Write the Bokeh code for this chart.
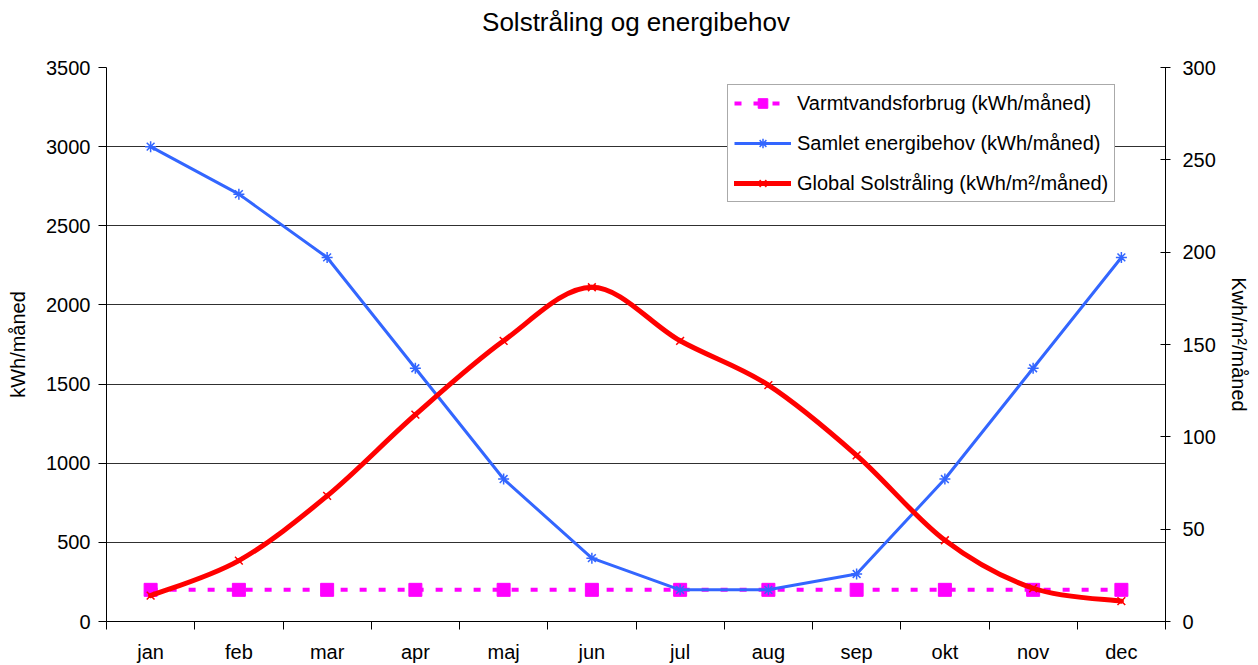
from bokeh.plotting import figure
from bokeh.models import (FixedTicker, LinearAxis, Range1d, Legend, LegendItem,
                          ColumnDataSource, Title)
from bokeh.embed import file_html
from bokeh.resources import INLINE

# ---- data ----
months = ["jan", "feb", "mar", "apr", "maj", "jun", "jul", "aug", "sep", "okt", "nov", "dec"]
varmtvand = [200, 200, 200, 200, 200, 200, 200, 200, 200, 200, 200, 200]
samlet = [3000, 2700, 2300, 1600, 900, 400, 200, 200, 300, 900, 1600, 2300]
solstraling = [14, 33, 68, 112, 152, 181, 152, 128, 90, 44, 18, 11]
left_ticks = [0, 500, 1000, 1500, 2000, 2500, 3000, 3500]
right_ticks = [0, 50, 100, 150, 200, 250, 300]

FONT = "Liberation Sans"
xs = [i + 0.5 for i in range(len(months))]

p = figure(width=1256, height=665, output_backend="svg", toolbar_location=None,
           x_range=Range1d(0, len(months)), y_range=Range1d(0, 3500),
           min_border_left=106, min_border_right=91, min_border_top=67,
           min_border_bottom=43)
p.title = None
p.extra_y_ranges = {"right": Range1d(0, 300)}
p.outline_line_color = None
p.background_fill_color = "white"

# spacer panel between frame and title, then the title itself (outermost)
p.add_layout(Title(text=" ", text_font_size="1px", standoff=25), "above")
p.add_layout(Title(text="Solstråling og energibehov", align="center",
                   text_font=FONT, text_font_size="26px", text_font_style="normal",
                   text_color="black", standoff=6), "above")

# x axis
p.xaxis.ticker = FixedTicker(ticks=xs, minor_ticks=list(range(len(months) + 1)))
p.xaxis.major_label_overrides = {x: m for x, m in zip(xs, months)}
p.xaxis.major_tick_out = 0
p.xaxis.major_tick_in = 0
p.xaxis.minor_tick_out = 8
p.xaxis.minor_tick_in = 0
p.xaxis.minor_tick_line_color = "black"
p.xaxis.axis_line_color = "black"
p.xaxis.major_label_text_font = FONT
p.xaxis.major_label_text_font_size = "20px"
p.xaxis.major_label_text_color = "black"
p.xaxis.major_label_standoff = 11
p.xgrid.visible = False

# left axis
p.yaxis.ticker = FixedTicker(ticks=left_ticks)
p.yaxis.minor_tick_line_color = None
p.yaxis.major_tick_out = 8
p.yaxis.major_tick_in = 0
p.yaxis.major_tick_line_color = "black"
p.yaxis.axis_line_color = "black"
p.yaxis.major_label_text_font = FONT
p.yaxis.major_label_text_font_size = "20px"
p.yaxis.major_label_text_color = "black"
p.yaxis.major_label_standoff = 8
p.yaxis.axis_label = "kWh/måned"
p.yaxis.axis_label_text_font = FONT
p.yaxis.axis_label_text_font_size = "20px"
p.yaxis.axis_label_text_font_style = "normal"
p.yaxis.axis_label_text_color = "black"
p.yaxis.axis_label_standoff = 14
p.ygrid.ticker = FixedTicker(ticks=left_ticks)
p.ygrid.grid_line_color = "#303030"
p.ygrid.grid_line_width = 1

# right axis
ra = LinearAxis(y_range_name="right", ticker=FixedTicker(ticks=right_ticks))
ra.minor_tick_line_color = None
ra.major_tick_out = 5
ra.major_tick_in = 5
ra.major_tick_line_color = "black"
ra.axis_line_color = "black"
ra.major_label_text_font = FONT
ra.major_label_text_font_size = "20px"
ra.major_label_text_color = "black"
ra.major_label_standoff = 12
ra.axis_label = "Kwh/m²/måned"
ra.axis_label_text_font = FONT
ra.axis_label_text_font_size = "20px"
ra.axis_label_text_font_style = "normal"
ra.axis_label_text_color = "black"
ra.axis_label_standoff = 9
p.add_layout(ra, "right")

# magenta series
src_v = ColumnDataSource(dict(x=xs, y=varmtvand))
r_v_line = p.line("x", "y", source=src_v, line_color="#FF00FF", line_width=4,
                  line_dash="7 12")
r_v_mark = p.scatter("x", "y", source=src_v, marker="square", size=13,
                     fill_color="#FF00FF", line_color="#FF00FF")

# blue series
src_s = ColumnDataSource(dict(x=xs, y=samlet))
r_s_line = p.line("x", "y", source=src_s, line_color="#3366FF", line_width=3)
r_s_mark = p.scatter("x", "y", source=src_s, marker="asterisk", size=11,
                     line_color="#3366FF", line_width=1.5)

# red smoothed series (cubic Bezier through the points, Catmull-Rom style)
n = len(xs)
bx0, by0, bx1, by1, cx0, cy0, cx1, cy1 = [], [], [], [], [], [], [], []
for i in range(n - 1):
    xm, ym = (xs[i - 1], solstraling[i - 1]) if i > 0 else (xs[i], solstraling[i])
    xp, yp = (xs[i + 2], solstraling[i + 2]) if i + 2 < n else (xs[i + 1], solstraling[i + 1])
    bx0.append(xs[i]); by0.append(solstraling[i])
    bx1.append(xs[i + 1]); by1.append(solstraling[i + 1])
    cx0.append(xs[i] + (xs[i + 1] - xm) / 6.0)
    cy0.append(solstraling[i] + (solstraling[i + 1] - ym) / 6.0)
    cx1.append(xs[i + 1] - (xp - xs[i]) / 6.0)
    cy1.append(solstraling[i + 1] - (yp - solstraling[i]) / 6.0)
src_b = ColumnDataSource(dict(x0=bx0, y0=by0, x1=bx1, y1=by1,
                              cx0=cx0, cy0=cy0, cx1=cx1, cy1=cy1))
r_g_line = p.bezier(x0="x0", y0="y0", x1="x1", y1="y1", cx0="cx0", cy0="cy0",
                    cx1="cx1", cy1="cy1", source=src_b, y_range_name="right",
                    line_color="#FF0000", line_width=5, line_cap="round")
src_g = ColumnDataSource(dict(x=xs, y=solstraling))
r_g_mark = p.scatter("x", "y", source=src_g, marker="x", size=11,
                     line_color="#FF0000", line_width=1.5, y_range_name="right")

legend = Legend(items=[
    LegendItem(label="Varmtvandsforbrug (kWh/måned)", renderers=[r_v_line, r_v_mark]),
    LegendItem(label="Samlet energibehov (kWh/måned)", renderers=[r_s_line, r_s_mark]),
    LegendItem(label="Global Solstråling (kWh/m²/måned)", renderers=[r_g_line, r_g_mark]),
], location=(621, 419))
legend.label_text_font = FONT
legend.label_text_font_size = "20px"
legend.label_text_color = "black"
legend.border_line_color = "#555555"
legend.border_line_width = 1
legend.background_fill_color = "white"
legend.background_fill_alpha = 1.0
legend.padding = 6
legend.spacing = 16
legend.label_height = 24
legend.glyph_height = 24
legend.glyph_width = 57
legend.label_standoff = 6
legend.margin = 0
p.add_layout(legend, "center")

open("out.html", "w").write(file_html(p, INLINE))
